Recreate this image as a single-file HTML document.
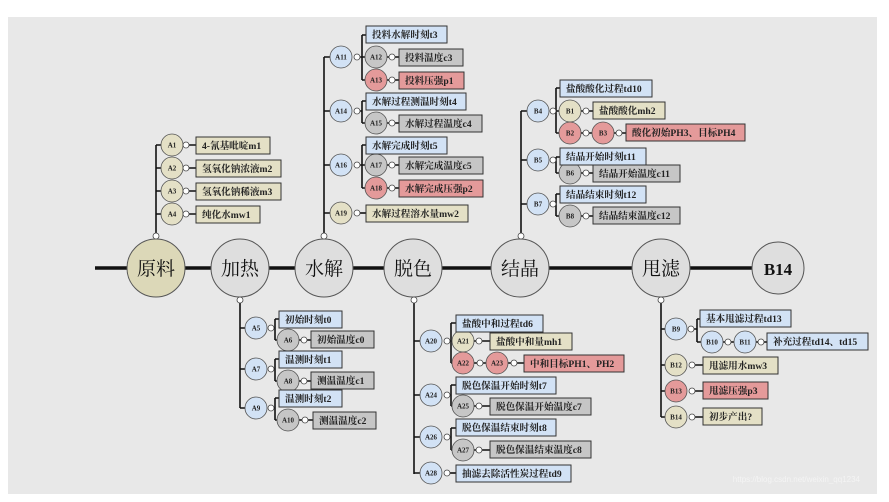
<!DOCTYPE html>
<html><head><meta charset="utf-8"><style>
html,body{margin:0;padding:0;background:#fff;}
svg{display:block;}
text{font-family:"Liberation Serif","Noto Serif CJK SC",serif;font-weight:bold;fill:#222;}
.l{stroke:#111;stroke-width:1.6;fill:none;}
.m{stroke:#111;stroke-width:3.5;}
.r{fill:#fff;stroke:#444;stroke-width:0.8;}
.bl{fill:#d2e2f5;stroke:#555;stroke-width:0.8;}
.gy{fill:#c6c6c6;stroke:#555;stroke-width:0.8;}
.rd{fill:#e49a9a;stroke:#555;stroke-width:0.8;}
.bg{fill:#e4e0c6;stroke:#555;stroke-width:0.8;}
.bx{stroke:#333;stroke-width:1;}
.c{font-size:7px;text-anchor:middle;}
.t{font-size:9.6px;}
.big{font-size:19px;text-anchor:middle;font-weight:normal;fill:#111;}
</style></head><body>
<svg width="889" height="502" viewBox="0 0 889 502" xmlns="http://www.w3.org/2000/svg">
<rect x="8" y="17" width="869" height="477" fill="#e8e8e8"/>
<text x="860" y="482" style="font-size:8px;font-weight:normal;fill:#f4f4f4;text-anchor:end;font-family:'Liberation Sans',sans-serif">https://blog.csdn.net/weixin_qq1234</text>

<line class="m" x1="95" y1="268" x2="760" y2="268"/>

<line class="l" x1="156" y1="145" x2="156" y2="235"/>
<line class="l" x1="324" y1="57" x2="324" y2="235"/>
<line class="l" x1="521" y1="111" x2="521" y2="235"/>
<line class="l" x1="240" y1="301" x2="240" y2="408"/>
<line class="l" x1="414" y1="301" x2="414" y2="474"/>
<line class="l" x1="661" y1="301" x2="661" y2="417"/>
<circle class="r" cx="156" cy="236" r="3"/>
<circle class="r" cx="324" cy="236" r="3"/>
<circle class="r" cx="521" cy="236" r="3"/>
<circle class="r" cx="240" cy="300" r="3"/>
<circle class="r" cx="414" cy="300" r="3"/>
<circle class="r" cx="661" cy="300" r="3"/>

<circle cx="156" cy="268" r="29" fill="#dcd8b8" stroke="#555"/>
<circle cx="240" cy="268" r="29" fill="#dedede" stroke="#555"/>
<circle cx="324" cy="268" r="29" fill="#dedede" stroke="#555"/>
<circle cx="413" cy="268" r="29" fill="#dedede" stroke="#555"/>
<circle cx="520" cy="268" r="29" fill="#dedede" stroke="#555"/>
<circle cx="661" cy="268" r="29" fill="#dedede" stroke="#555"/>
<circle cx="778" cy="268" r="26" fill="#dedede" stroke="#555"/>
<text class="big" x="156" y="275">原料</text>
<text class="big" x="240" y="275">加热</text>
<text class="big" x="324" y="275">水解</text>
<text class="big" x="413" y="275">脱色</text>
<text class="big" x="520" y="275">结晶</text>
<text class="big" x="661" y="275">甩滤</text>
<text class="big" x="778" y="275" style="font-weight:bold;font-size:17px;font-family:'Liberation Serif',serif">B14</text>

<g>
<path class="l" d="M156 145H161M156 168H161M156 191H161M156 214H161M189 145H196M189 168H196M189 191H196M189 214H196"/>
<circle class="bg" cx="172" cy="145" r="11"/><text class="c" x="172" y="147.5">A1</text>
<circle class="bg" cx="172" cy="168" r="11"/><text class="c" x="172" y="170.5">A2</text>
<circle class="bg" cx="172" cy="191" r="11"/><text class="c" x="172" y="193.5">A3</text>
<circle class="bg" cx="172" cy="214" r="11"/><text class="c" x="172" y="216.5">A4</text>
<circle class="r" cx="186" cy="145" r="3"/><circle class="r" cx="186" cy="168" r="3"/><circle class="r" cx="186" cy="191" r="3"/><circle class="r" cx="186" cy="214" r="3"/>
<rect class="bg bx" x="196" y="137" width="74" height="17"/><text class="t" x="202" y="149">4-氰基吡啶m1</text>
<rect class="bg bx" x="196" y="160" width="85" height="17"/><text class="t" x="202" y="172">氢氧化钠浓液m2</text>
<rect class="bg bx" x="196" y="183" width="85" height="17"/><text class="t" x="202" y="195">氢氧化钠稀液m3</text>
<rect class="bg bx" x="196" y="206" width="64" height="17"/><text class="t" x="202" y="218">纯化水mw1</text>
</g>

<g>
<path class="l" d="M324 57H330M324 111H330M324 165H330M324 213H330"/>
<path class="l" d="M360 57H362M362 35V80M362 35H366M362 57H365M362 80H365M386 57H399M386 80H399"/>
<path class="l" d="M360 111H362M362 101V123M362 101H366M362 123H365M386 123H399"/>
<path class="l" d="M360 165H362M362 145V188M362 145H366M362 165H365M362 188H365M386 165H399M386 188H399"/>
<path class="l" d="M360 213H366"/>
<circle class="bl" cx="341" cy="57" r="11"/><text class="c" x="341" y="59.5">A11</text>
<circle class="bl" cx="341" cy="111" r="11"/><text class="c" x="341" y="113.5">A14</text>
<circle class="bl" cx="341" cy="165" r="11"/><text class="c" x="341" y="167.5">A16</text>
<circle class="bg" cx="341" cy="213" r="11"/><text class="c" x="341" y="215.5">A19</text>
<circle class="r" cx="357" cy="57" r="3"/><circle class="r" cx="357" cy="111" r="3"/><circle class="r" cx="357" cy="165" r="3"/><circle class="r" cx="357" cy="213" r="3"/>
<circle class="gy" cx="376" cy="57" r="11"/><text class="c" x="376" y="59.5">A12</text>
<circle class="rd" cx="376" cy="80" r="11"/><text class="c" x="376" y="82.5">A13</text>
<circle class="gy" cx="376" cy="123" r="11"/><text class="c" x="376" y="125.5">A15</text>
<circle class="gy" cx="376" cy="165" r="11"/><text class="c" x="376" y="167.5">A17</text>
<circle class="rd" cx="376" cy="188" r="11"/><text class="c" x="376" y="190.5">A18</text>
<circle class="r" cx="392" cy="57" r="3"/><circle class="r" cx="392" cy="80" r="3"/><circle class="r" cx="392" cy="123" r="3"/><circle class="r" cx="392" cy="165" r="3"/><circle class="r" cx="392" cy="188" r="3"/>
<rect class="bl bx" x="366" y="26" width="81" height="17"/><text class="t" x="372" y="38">投料水解时刻t3</text>
<rect class="gy bx" x="399" y="49" width="64" height="17"/><text class="t" x="405" y="61">投料温度c3</text>
<rect class="rd bx" x="399" y="72" width="65" height="17"/><text class="t" x="405" y="84">投料压强p1</text>
<rect class="bl bx" x="366" y="93" width="100" height="17"/><text class="t" x="372" y="105">水解过程测温时刻t4</text>
<rect class="gy bx" x="399" y="115" width="83" height="17"/><text class="t" x="405" y="127">水解过程温度c4</text>
<rect class="bl bx" x="366" y="137" width="81" height="17"/><text class="t" x="372" y="149">水解完成时刻t5</text>
<rect class="gy bx" x="399" y="157" width="84" height="17"/><text class="t" x="405" y="169">水解完成温度c5</text>
<rect class="rd bx" x="399" y="180" width="84" height="17"/><text class="t" x="405" y="192">水解完成压强p2</text>
<rect class="bg bx" x="366" y="205" width="102" height="17"/><text class="t" x="372" y="217">水解过程溶水量mw2</text>
</g>

<g>
<path class="l" d="M521 111H527M521 160H527M521 204H527"/>
<path class="l" d="M553 111H556M556 88V133M556 88H560M556 111H559M556 133H559M581 111H593M581 133H592M614 133H626"/>
<path class="l" d="M553 160H556M556 157V173M556 157H560M556 173H559M581 173H593"/>
<path class="l" d="M553 204H556M556 194V216M556 194H560M556 216H559M581 216H593"/>
<circle class="bl" cx="538" cy="111" r="11"/><text class="c" x="538" y="113.5">B4</text>
<circle class="bl" cx="538" cy="160" r="11"/><text class="c" x="538" y="162.5">B5</text>
<circle class="bl" cx="538" cy="204" r="11"/><text class="c" x="538" y="206.5">B7</text>
<circle class="r" cx="553" cy="111" r="3"/><circle class="r" cx="553" cy="160" r="3"/><circle class="r" cx="553" cy="204" r="3"/>
<circle class="bg" cx="570" cy="111" r="11"/><text class="c" x="570" y="113.5">B1</text>
<circle class="rd" cx="570" cy="133" r="11"/><text class="c" x="570" y="135.5">B2</text>
<circle class="rd" cx="603" cy="133" r="11"/><text class="c" x="603" y="135.5">B3</text>
<circle class="gy" cx="570" cy="173" r="11"/><text class="c" x="570" y="175.5">B6</text>
<circle class="gy" cx="570" cy="216" r="11"/><text class="c" x="570" y="218.5">B8</text>
<circle class="r" cx="586" cy="111" r="3"/><circle class="r" cx="586" cy="133" r="3"/><circle class="r" cx="619" cy="133" r="3"/><circle class="r" cx="586" cy="173" r="3"/><circle class="r" cx="586" cy="216" r="3"/>
<rect class="bl bx" x="560" y="80" width="92" height="17"/><text class="t" x="566" y="92">盐酸酸化过程td10</text>
<rect class="bg bx" x="593" y="102" width="72" height="17"/><text class="t" x="599" y="114">盐酸酸化mh2</text>
<rect class="rd bx" x="626" y="124" width="119" height="17"/><text class="t" x="632" y="136">酸化初始PH3、目标PH4</text>
<rect class="bl bx" x="560" y="148" width="86" height="17"/><text class="t" x="566" y="160">结晶开始时刻t11</text>
<rect class="gy bx" x="593" y="165" width="87" height="17"/><text class="t" x="599" y="177">结晶开始温度c11</text>
<rect class="bl bx" x="560" y="186" width="86" height="17"/><text class="t" x="566" y="198">结晶结束时刻t12</text>
<rect class="gy bx" x="593" y="207" width="87" height="17"/><text class="t" x="599" y="219">结晶结束温度c12</text>
</g>

<g>
<path class="l" d="M240 328H245M240 369H245M240 408H245"/>
<path class="l" d="M271 328H275M275 319V340M275 319H279M275 340H277M299 340H311"/>
<path class="l" d="M271 369H275M275 359V381M275 359H279M275 381H277M299 381H311"/>
<path class="l" d="M271 408H275M275 398V420M275 398H279M275 420H277M299 420H313"/>
<circle class="bl" cx="256" cy="328" r="11"/><text class="c" x="256" y="330.5">A5</text>
<circle class="bl" cx="256" cy="369" r="11"/><text class="c" x="256" y="371.5">A7</text>
<circle class="bl" cx="256" cy="408" r="11"/><text class="c" x="256" y="410.5">A9</text>
<circle class="r" cx="271" cy="328" r="3"/><circle class="r" cx="271" cy="369" r="3"/><circle class="r" cx="271" cy="408" r="3"/>
<circle class="gy" cx="288" cy="340" r="11"/><text class="c" x="288" y="342.5">A6</text>
<circle class="gy" cx="288" cy="381" r="11"/><text class="c" x="288" y="383.5">A8</text>
<circle class="gy" cx="288" cy="420" r="11"/><text class="c" x="288" y="422.5">A10</text>
<circle class="r" cx="304" cy="340" r="3"/><circle class="r" cx="304" cy="381" r="3"/><circle class="r" cx="305" cy="420" r="3"/>
<rect class="bl bx" x="279" y="311" width="63" height="17"/><text class="t" x="285" y="323">初始时刻t0</text>
<rect class="gy bx" x="311" y="331" width="63" height="17"/><text class="t" x="317" y="343">初始温度c0</text>
<rect class="bl bx" x="279" y="351" width="63" height="17"/><text class="t" x="285" y="363">温测时刻t1</text>
<rect class="gy bx" x="311" y="372" width="63" height="17"/><text class="t" x="317" y="384">测温温度c1</text>
<rect class="bl bx" x="279" y="390" width="63" height="17"/><text class="t" x="285" y="402">温测时刻t2</text>
<rect class="gy bx" x="313" y="412" width="63" height="17"/><text class="t" x="319" y="424">测温温度c2</text>
</g>

<g>
<path class="l" d="M414 341H420M414 395H420M414 437H420M414 473H420"/>
<path class="l" d="M446 341H451M451 323V363M451 323H456M451 341H452M451 363H452M474 341H490M474 363H486M508 363H524"/>
<path class="l" d="M446 395H451M451 385V406M451 385H456M451 406H452M474 406H490"/>
<path class="l" d="M446 437H451M451 428V450M451 428H456M451 450H452M474 450H490"/>
<path class="l" d="M446 473H456"/>
<circle class="bl" cx="431" cy="341" r="11"/><text class="c" x="431" y="343.5">A20</text>
<circle class="bl" cx="431" cy="395" r="11"/><text class="c" x="431" y="397.5">A24</text>
<circle class="bl" cx="431" cy="437" r="11"/><text class="c" x="431" y="439.5">A26</text>
<circle class="bl" cx="431" cy="473" r="11"/><text class="c" x="431" y="475.5">A28</text>
<circle class="r" cx="447" cy="341" r="3"/><circle class="r" cx="447" cy="395" r="3"/><circle class="r" cx="447" cy="437" r="3"/><circle class="r" cx="447" cy="473" r="3"/>
<circle class="bg" cx="463" cy="341" r="11"/><text class="c" x="463" y="343.5">A21</text>
<circle class="rd" cx="463" cy="363" r="11"/><text class="c" x="463" y="365.5">A22</text>
<circle class="rd" cx="497" cy="363" r="11"/><text class="c" x="497" y="365.5">A23</text>
<circle class="gy" cx="463" cy="406" r="11"/><text class="c" x="463" y="408.5">A25</text>
<circle class="gy" cx="463" cy="450" r="11"/><text class="c" x="463" y="452.5">A27</text>
<circle class="r" cx="479" cy="341" r="3"/><circle class="r" cx="480" cy="363" r="3"/><circle class="r" cx="514" cy="363" r="3"/><circle class="r" cx="479" cy="406" r="3"/><circle class="r" cx="479" cy="450" r="3"/>
<rect class="bl bx" x="456" y="315" width="87" height="17"/><text class="t" x="462" y="327">盐酸中和过程td6</text>
<rect class="bg bx" x="490" y="333" width="82" height="17"/><text class="t" x="496" y="345">盐酸中和量mh1</text>
<rect class="rd bx" x="524" y="355" width="100" height="17"/><text class="t" x="530" y="367">中和目标PH1、PH2</text>
<rect class="bl bx" x="456" y="377" width="100" height="17"/><text class="t" x="462" y="389">脱色保温开始时刻t7</text>
<rect class="gy bx" x="490" y="398" width="101" height="17"/><text class="t" x="496" y="410">脱色保温开始温度c7</text>
<rect class="bl bx" x="456" y="419" width="100" height="17"/><text class="t" x="462" y="431">脱色保温结束时刻t8</text>
<rect class="gy bx" x="490" y="441" width="101" height="17"/><text class="t" x="496" y="453">脱色保温结束温度c8</text>
<rect class="bl bx" x="456" y="465" width="115" height="17"/><text class="t" x="462" y="477">抽滤去除活性炭过程td9</text>
</g>

<g>
<path class="l" d="M661 329H666M661 365H666M661 391H666M661 417H666"/>
<path class="l" d="M692 329H697M697 319V342M697 319H700M697 342H701M723 342H734M756 342H767"/>
<path class="l" d="M692 365H703M692 391H703M692 417H703"/>
<circle class="bl" cx="676" cy="329" r="11"/><text class="c" x="676" y="331.5">B9</text>
<circle class="bg" cx="676" cy="365" r="11"/><text class="c" x="676" y="367.5">B12</text>
<circle class="rd" cx="676" cy="391" r="11"/><text class="c" x="676" y="393.5">B13</text>
<circle class="bg" cx="676" cy="417" r="11"/><text class="c" x="676" y="419.5">B14</text>
<circle class="r" cx="691" cy="329" r="3"/><circle class="r" cx="692" cy="365" r="3"/><circle class="r" cx="692" cy="391" r="3"/><circle class="r" cx="692" cy="417" r="3"/>
<circle class="bl" cx="712" cy="342" r="11"/><text class="c" x="712" y="344.5">B10</text>
<circle class="bl" cx="745" cy="342" r="11"/><text class="c" x="745" y="344.5">B11</text>
<circle class="r" cx="728" cy="342" r="3"/><circle class="r" cx="761" cy="342" r="3"/>
<rect class="bl bx" x="700" y="310" width="91" height="17"/><text class="t" x="706" y="322">基本甩滤过程td13</text>
<rect class="bl bx" x="767" y="333" width="101" height="17"/><text class="t" x="773" y="345">补充过程td14、td15</text>
<rect class="bg bx" x="703" y="357" width="75" height="17"/><text class="t" x="709" y="369">甩滤用水mw3</text>
<rect class="rd bx" x="703" y="382" width="65" height="17"/><text class="t" x="709" y="394">甩滤压强p3</text>
<rect class="bg bx" x="703" y="408" width="59" height="17"/><text class="t" x="709" y="420">初步产出?</text>
</g>
</svg>
</body></html>
